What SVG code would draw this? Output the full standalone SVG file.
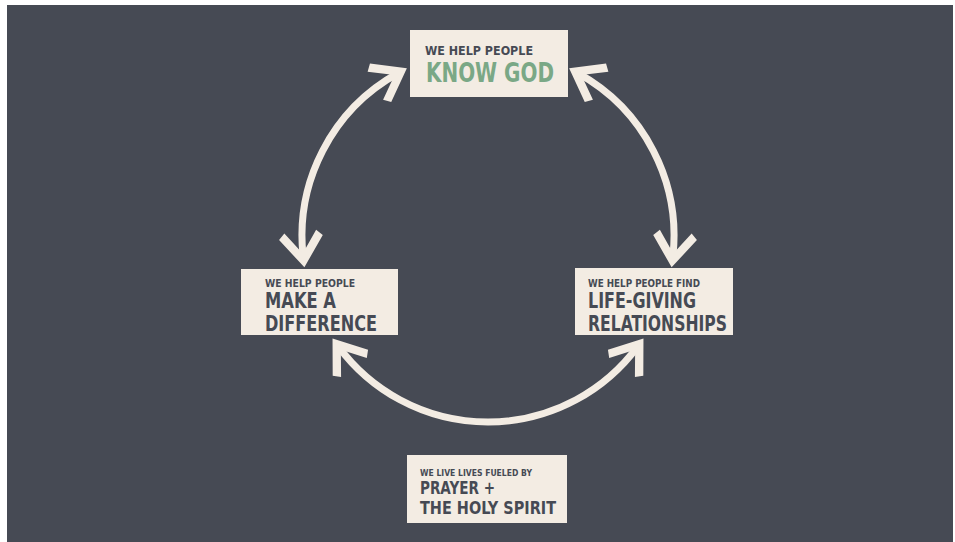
<svg xmlns="http://www.w3.org/2000/svg" width="955" height="542" viewBox="0 0 955 542">
<defs>
<style>
.box{fill:#f3ece3}
.t{font-family:"DejaVu Sans Condensed","DejaVu Sans","Liberation Sans",sans-serif;font-stretch:condensed;font-weight:bold;fill:#464a54}
.g{fill:#7aa886}
.arc{fill:none;stroke:#f3ece3;stroke-width:7}
</style>
<marker id="ah" viewBox="-22 -24 40 48" refX="6" refY="0" markerWidth="40" markerHeight="48" orient="auto-start-reverse" markerUnits="userSpaceOnUse">
<path d="M16,0 L-14,-22 L-20,-16 L2,0 L-20,16 L-14,22 Z" fill="#f3ece3"/>
</marker>
</defs>
<rect x="0" y="0" width="955" height="542" fill="#ffffff"/>
<rect x="7" y="5" width="946" height="537" fill="#464a54"/>
<g id="connectors">
<path class="arc" d="M303.23,257.38 A186,186 0 0 1 398.11,73.16" marker-start="url(#ah)" marker-end="url(#ah)"/>
<path class="arc" d="M577.89,73.16 A186,186 0 0 1 672.77,257.38" marker-start="url(#ah)" marker-end="url(#ah)"/>
<path class="arc" d="M338.48,346.64 A186,186 0 0 0 637.52,346.64" marker-start="url(#ah)" marker-end="url(#ah)"/>
</g>
<g id="know-god">
<rect class="box" x="410" y="30" width="158" height="67"/>
<text class="t" x="425" y="54.5" font-size="13" textLength="108" lengthAdjust="spacingAndGlyphs">WE HELP PEOPLE</text>
<text class="t g" x="426" y="82" font-size="26" textLength="128" lengthAdjust="spacingAndGlyphs">KNOW GOD</text>
</g>
<g id="make-difference">
<rect class="box" x="241" y="269" width="157" height="66"/>
<text class="t" x="265" y="287" font-size="11" textLength="90" lengthAdjust="spacingAndGlyphs">WE HELP PEOPLE</text>
<text class="t" x="265" y="308" font-size="21" textLength="71" lengthAdjust="spacingAndGlyphs">MAKE A</text>
<text class="t" x="265" y="331" font-size="21" textLength="112" lengthAdjust="spacingAndGlyphs">DIFFERENCE</text>
</g>
<g id="relationships">
<rect class="box" x="575" y="268" width="158" height="67"/>
<text class="t" x="588" y="287" font-size="11" textLength="112" lengthAdjust="spacingAndGlyphs">WE HELP PEOPLE FIND</text>
<text class="t" x="588" y="308" font-size="21" textLength="108" lengthAdjust="spacingAndGlyphs">LIFE-GIVING</text>
<text class="t" x="588" y="331" font-size="21" textLength="139" lengthAdjust="spacingAndGlyphs">RELATIONSHIPS</text>
</g>
<g id="prayer">
<rect class="box" x="407" y="455" width="160" height="68"/>
<text class="t" x="420" y="476" font-size="8" textLength="112" lengthAdjust="spacingAndGlyphs">WE LIVE LIVES FUELED BY</text>
<text class="t" x="420" y="494" font-size="17" textLength="75" lengthAdjust="spacingAndGlyphs">PRAYER +</text>
<text class="t" x="420" y="514" font-size="17" textLength="136" lengthAdjust="spacingAndGlyphs">THE HOLY SPIRIT</text>
</g>
</svg>
